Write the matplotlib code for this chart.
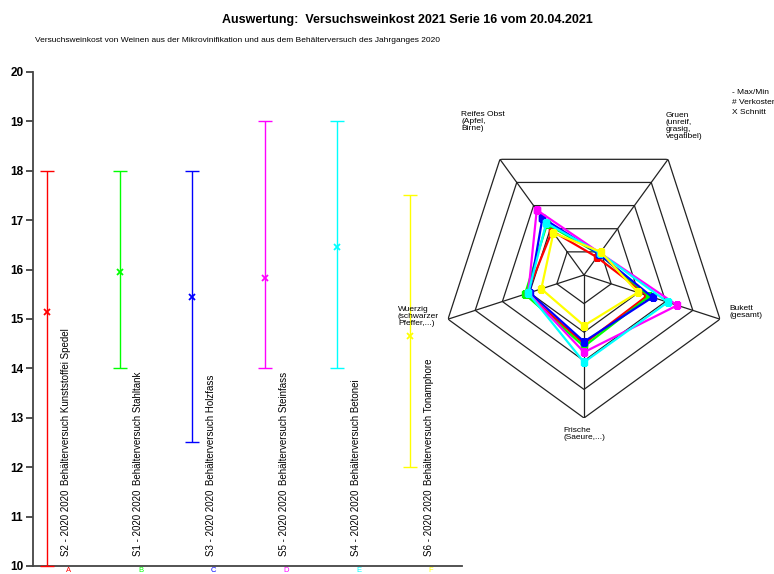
import numpy as np
import matplotlib
matplotlib.use('Agg')
import matplotlib.pyplot as plt

plt.rcParams['font.family'] = ['Liberation Sans', 'DejaVu Sans']

# Daten
codes = ['S2 - 2020 2020', 'S1 - 2020 2020', 'S3 - 2020 2020',
         'S5 - 2020 2020', 'S4 - 2020 2020', 'S6 - 2020 2020']
names = ['Behälterversuch Kunststoffei Spedel', 'Behälterversuch Stahltank',
         'Behälterversuch Holzfass', 'Behälterversuch Steinfass',
         'Behälterversuch Betonei', 'Behälterversuch Tonamphore']
letters = ['A', 'B', 'C', 'D', 'E', 'F']
max_vals = [18, 18, 18, 19, 19, 17.5]
min_vals = [10, 14, 12.5, 14, 14, 12]
mean_vals = [15.14, 15.95, 15.45, 15.82, 16.46, 14.65]
colors = ['#ff0000', '#00ff00', '#0000ff', '#ff00ff', '#00ffff', '#ffff00']

radar_labels = ['Reifes Obst\n(Apfel,\nBirne)', 'Gruen\n(unreif,\ngrasig,\nvegatibel)',
                'Bukett\n(gesamt)', 'Frische\n(Saeure,...)', 'Wuerzig\n(schwarzer\nPfeffer,...)']
radar_vals = [
    [1.90, 0.77, 2.33, 2.40, 2.10],
    [2.20, 0.90, 2.40, 2.50, 2.17],
    [2.47, 0.90, 2.52, 2.33, 2.00],
    [2.81, 0.95, 3.43, 2.70, 2.05],
    [2.25, 0.95, 3.08, 3.05, 2.05],
    [1.82, 1.00, 1.98, 1.77, 1.57],
]
legend_lines = ['- Max/Min', '# Verkoster', 'X Schnitt']

W, H = 774, 574
fig = plt.figure(figsize=(W / 100, H / 100), dpi=100)

# linkes Diagramm (Max/Min + Schnitt)
ax = fig.add_axes([33 / W, 1 - 566 / H, 429 / W, 494 / H])
x = np.arange(len(codes))
for i in range(len(codes)):
    mid = (max_vals[i] + min_vals[i]) / 2
    err = [[mid - min_vals[i]], [max_vals[i] - mid]]
    ax.errorbar(x[i], mid, yerr=err, fmt='none', ecolor=colors[i], elinewidth=1,
                capsize=5, capthick=1, clip_on=False, zorder=3)
    ax.plot(x[i], mean_vals[i], 'x', color=colors[i], ms=5, mew=1.3, zorder=4)
    ax.text(x[i] + 0.26, 10.2, codes[i], rotation=90, ha='center', va='bottom',
            fontsize=7)
    ax.text(x[i] + 0.26, 11.64, names[i], rotation=90, ha='center', va='bottom',
            fontsize=7)
    ax.text(x[i] + 0.29, 9.97, letters[i], color=colors[i], ha='center', va='top',
            fontsize=5.5, clip_on=False)

ax.set_xlim(-0.193, 5.716)
ax.set_ylim(10, 20)
ax.set_yticks(range(10, 21))
ax.set_xticks([])
ax.tick_params(axis='y', direction='out', length=5, width=1.2, color='#333333',
               labelsize=8.5, pad=2)
for lab in ax.get_yticklabels():
    lab.set_fontweight('bold')
ax.spines['top'].set_visible(False)
ax.spines['right'].set_visible(False)
for s in ['left', 'bottom']:
    ax.spines[s].set_color('#444444')
    ax.spines[s].set_linewidth(1.3)
ax.patch.set_alpha(0)

# Spinnendiagramm
cx, cy, r = 584, 275, 143
rax = fig.add_axes([(cx - r) / W, (H - cy - r) / H, 2 * r / W, 2 * r / H],
                   projection='polar')
rax.set_theta_offset(np.deg2rad(126))
rax.set_theta_direction(-1)
rax.set_ylim(0, 5)
rax.axis('off')
n = len(radar_labels)
theta = np.arange(n) * 2 * np.pi / n
tc = np.append(theta, theta[0])
for ring in range(1, 6):
    rax.plot(tc, [ring] * (n + 1), color='#222222', lw=0.9, zorder=1)
for t in theta:
    rax.plot([t, t], [0, 5], color='#222222', lw=0.9, zorder=1)
for vals, c in zip(radar_vals, colors):
    v = vals + [vals[0]]
    rax.plot(tc, v, color=c, lw=1.6, marker='s', ms=5, zorder=3)

label_pos = [(461, 111), (666, 112), (729, 305), (563, 427), (398, 306)]
for txt, (px, py) in zip(radar_labels, label_pos):
    fig.text(px / W, 1 - py / H, txt, ha='left', va='top', fontsize=6,
             linespacing=1.0)
for k, txt in enumerate(legend_lines):
    fig.text(732 / W, 1 - (92 + 10.5 * k) / H, txt, ha='left', va='center', fontsize=6)

fig.text(407 / W, 1 - 20 / H, 'Auswertung:  Versuchsweinkost 2021 Serie 16 vom 20.04.2021',
         ha='center', va='center', fontsize=9, fontweight='bold')
fig.text(35 / W, 1 - 41 / H,
         'Versuchsweinkost von Weinen aus der Mikrovinifikation und aus dem Behälterversuch des Jahrganges 2020',
         ha='left', va='center', fontsize=6)

fig.savefig('out.png', dpi=100)
